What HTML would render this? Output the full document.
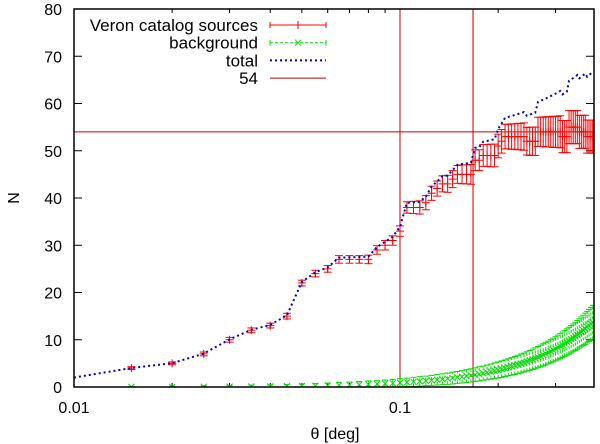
<!DOCTYPE html>
<html><head><meta charset="utf-8">
<style>
html,body{margin:0;padding:0;background:#fff;}
svg{display:block;font-family:"Liberation Sans",sans-serif;}
</style></head>
<body>
<svg id="chart" width="600" height="444" viewBox="0 0 600 444"></svg>
<script>
const thetas = [0.015,0.02,0.025,0.03,0.035,0.04,0.045,0.05,0.055,0.06,0.065,0.07,0.075,0.08,0.085,0.09,0.095,0.1,0.105,0.11,0.115,0.12,0.125,0.13,0.135,0.14,0.145,0.15,0.155,0.16,0.165,0.17,0.175,0.18,0.185,0.19,0.195,0.2,0.205,0.21,0.215,0.22,0.225,0.23,0.235,0.24,0.245,0.25,0.255,0.26,0.265,0.27,0.275,0.28,0.285,0.29,0.295,0.3,0.305,0.31,0.315,0.32,0.325,0.33,0.335,0.34,0.345,0.35,0.355,0.36,0.365,0.37,0.375,0.38,0.385,0.39];
const veron = [4,5,7,10,12,13,15,22,24,25,27,27,27,27,29,30,31,33,38,38,38,39,41,42,43,43,44,45,45,45,45,48,48,49,49,49,49,51,52,53,53,53,53,53,53,53,52,52,52,52,54,54,54,54,54,54,54,54,54,54,53,53,53,55,55,55,55,55,54,54,54,54,53,53,53,53];
const veronErr = [0.3,0.3,0.4,0.5,0.5,0.5,0.6,0.6,0.7,0.7,0.8,0.8,0.8,0.9,0.9,1,1,1.1,1.2,1.3,1.4,1.5,1.5,1.6,1.7,1.8,1.8,1.9,2,2,2.1,2.2,2.2,2.3,2.3,2.4,2.4,2.5,2.5,2.6,2.6,2.7,2.7,2.8,2.8,2.9,2.9,3,3,3,3.1,3.1,3.1,3.2,3.2,3.2,3.3,3.3,3.3,3.4,3.4,3.4,3.4,3.5,3.5,3.5,3.5,3.5,3.5,3.5,3.5,3.5,3.5,3.5,3.5,3.5];
const background = [0.02,0.04,0.06,0.08,0.11,0.14,0.18,0.23,0.27,0.32,0.38,0.44,0.51,0.58,0.65,0.73,0.81,0.9,0.99,1.09,1.19,1.3,1.41,1.52,1.64,1.76,1.89,2.03,2.16,2.3,2.45,2.6,2.76,2.92,3.08,3.25,3.42,3.6,3.78,3.97,4.16,4.36,4.56,4.76,4.97,5.18,5.4,5.63,5.85,6.08,6.32,6.56,6.81,7.06,7.31,7.57,7.83,8.1,8.37,8.65,8.93,9.22,9.51,9.8,10.1,10.4,10.71,11.03,11.34,11.66,11.99,12.32,12.66,13.0,13.34,13.69];
const backgroundErr = [0.1,0.15,0.2,0.25,0.3,0.3,0.35,0.4,0.45,0.5,0.55,0.6,0.65,0.7,0.7,0.75,0.8,0.85,0.9,0.95,1,1,1.05,1.1,1.15,1.2,1.25,1.25,1.3,1.35,1.4,1.45,1.5,1.5,1.55,1.6,1.65,1.7,1.75,1.75,1.8,1.85,1.9,1.95,2,2,2.05,2.1,2.15,2.2,2.25,2.3,2.35,2.4,2.4,2.45,2.5,2.55,2.6,2.65,2.7,2.75,2.8,2.85,2.9,2.95,3,3.05,3.1,3.15,3.2,3.3,3.35,3.4,3.5,3.6];
const hLineValue = 54;
const vLines = [0.1, 0.1675];
const yTicks = [0,10,20,30,40,50,60,70,80];
const xMajor = [0.01, 0.1];
const xMajorLabels = ["0.01","0.1"];
const xMinor = [0.02,0.03,0.04,0.05,0.06,0.07,0.08,0.09,0.2,0.3];

const L=74,R=594,T=9,B=387;
const XMIN=0.01, DEC=326;
const YMAX=80;
function xs(v){return L+DEC*Math.log10(v/XMIN);}
function ys(v){return B-(B-T)*v/YMAX;}
const svg=document.getElementById('chart');
const NS='http://www.w3.org/2000/svg';
function mk(tag,attrs,parent){const e=document.createElementNS(NS,tag);for(const k in attrs)e.setAttribute(k,attrs[k]);(parent||svg).appendChild(e);return e;}

// clip
const defs=mk('defs',{});
const cp=mk('clipPath',{id:'clip'},defs);
mk('rect',{x:L,y:T,width:R-L,height:B-T},cp);

// ticks
const ticks=mk('g',{stroke:'#000','stroke-width':1});


yTicks.forEach(v=>{
  const y=ys(v);
  mk('line',{x1:L,x2:L+8,y1:y,y2:y},ticks);
  mk('line',{x1:R-8,x2:R,y1:y,y2:y},ticks);
  const t=mk('text',{x:62,y:y+6,'text-anchor':'end','font-size':16,fill:'#000'});
  t.textContent=v;
  
  
});
xMajor.forEach((v,i)=>{
  const x=xs(v);
  mk('line',{x1:x,x2:x,y1:B,y2:B-8},ticks);
  mk('line',{x1:x,x2:x,y1:T,y2:T+8},ticks);
  const t=mk('text',{x:x,y:413,'text-anchor':'middle','font-size':16,fill:'#000'});
  t.textContent=xMajorLabels[i];
  
  
});
xMinor.forEach(v=>{
  const x=xs(v);
  mk('line',{x1:x,x2:x,y1:B,y2:B-4},ticks);
  mk('line',{x1:x,x2:x,y1:T,y2:T+4},ticks);
});

const plot=mk('g',{'clip-path':'url(#clip)'});



// reference lines
const ref=mk('g',{stroke:'#c00000','stroke-width':1},plot);


const hl=mk('line',{x1:L,x2:R,y1:ys(hLineValue),y2:ys(hLineValue)},ref);


vLines.forEach(v=>{
  const l=mk('line',{x1:xs(v),x2:xs(v),y1:T,y2:B},ref);
  
  
});

// background
const bg=mk('g',{stroke:'#00dd00','stroke-width':1,fill:'none'},plot);


thetas.forEach((t,i)=>{
  const x=xs(t),y=ys(background[i]),y1=ys(background[i]-backgroundErr[i]),y2=ys(background[i]+backgroundErr[i]);
  mk('line',{x1:x,x2:x,y1:y1,y2:y2,'stroke-dasharray':'3,2'},bg);
  mk('line',{x1:x-3,x2:x+3,y1:y1,y2:y1},bg);
  mk('line',{x1:x-3,x2:x+3,y1:y2,y2:y2},bg);
  const m=mk('path',{d:`M${x-3},${y-3}L${x+3},${y+3}M${x-3},${y+3}L${x+3},${y-3}`},bg);
  
  
});

// veron
const vr=mk('g',{stroke:'#ff0000','stroke-width':1,fill:'none'},plot);


thetas.forEach((t,i)=>{
  const x=xs(t),y=ys(veron[i]),y1=ys(veron[i]-veronErr[i]),y2=ys(veron[i]+veronErr[i]);
  mk('line',{x1:x,x2:x,y1:y1,y2:y2},vr);
  mk('line',{x1:x-4,x2:x+4,y1:y1,y2:y1},vr);
  mk('line',{x1:x-4,x2:x+4,y1:y2,y2:y2},vr);
  const m=mk('path',{d:`M${x-4},${y}L${x+4},${y}M${x},${y-4}L${x},${y+4}`},vr);
  
  
});

// total
let d='M'+xs(XMIN)+','+ys(2);
thetas.forEach((t,i)=>{d+='L'+xs(t)+','+ys(veron[i]+background[i]);});
const tl=mk('path',{d:d,stroke:'#0000cc','stroke-width':2,fill:'none','stroke-dasharray':'2,3'},plot);



// frame
const fr=mk('rect',{x:L,y:T,width:R-L,height:B-T,fill:'none',stroke:'#000','stroke-width':1.5});



// legend
const leg=mk('g',{});


const entries=[['Veron catalog sources','#ff0000',''],['background','#00dd00','3,2'],['total','#0000cc','2,3'],['54','#c00000','']];
entries.forEach((e,i)=>{
  const y=25+i*17.7;
  const g=mk('g',{},leg);
  
  
  const t=mk('text',{x:258,y:y+6,'text-anchor':'end','font-size':17,fill:'#000'},g);
  t.textContent=e[0];
  mk('line',{x1:270,x2:326,y1:y,y2:y,stroke:e[1],'stroke-width':e[0]==='total'?2:1,'stroke-dasharray':e[2]},g);
  if(i===0){mk('path',{d:`M270,${y-3}L270,${y+3}M326,${y-3}L326,${y+3}M298,${y-4}L298,${y+4}`,stroke:e[1]},g);}
  if(i===1){mk('path',{d:`M270,${y-3}L270,${y+3}M326,${y-3}L326,${y+3}M295,${y-3}L301,${y+3}M295,${y+3}L301,${y-3}`,stroke:e[1]},g);}
});

// axis titles
const yl=mk('text',{x:19,y:198,'text-anchor':'middle','font-size':16,fill:'#000',transform:'rotate(-90 19 198)'});
yl.textContent='N';


const xl=mk('text',{x:335,y:439,'text-anchor':'middle','font-size':16,fill:'#000'});
xl.textContent='θ [deg]';


</script>
</body></html>
